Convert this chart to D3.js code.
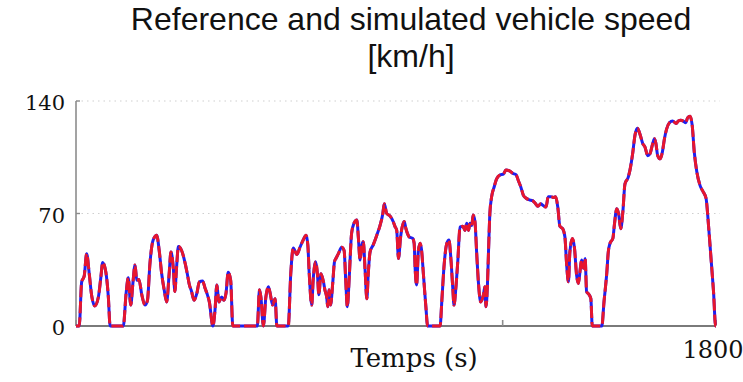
<!DOCTYPE html>
<html>
<head>
<meta charset="utf-8">
<script src="https://cdn.jsdelivr.net/npm/d3@7"></script>
<style>
  body { margin: 0; background: #fff; }
</style>
</head>
<body>
<script>

// WLTP-like cycle (time in s, speed in km/h)
const times = [0, 9, 16, 23, 30, 37, 44, 53, 63, 70, 75, 84, 91, 96, 133, 141, 147, 154, 160, 166,
  171, 177, 185, 194, 201, 208, 217, 227, 234, 241, 248, 255, 262, 267, 274, 278, 283, 288, 297, 307,
  313, 319, 325, 332, 340, 347, 356, 363, 368, 375, 385, 391, 396, 402, 410, 416, 422, 428, 435, 441,
  510, 516, 520, 527, 534, 541, 546, 553, 560, 565, 597, 604, 611, 621, 630, 639, 647, 652, 656, 663,
  667, 674, 679, 683, 689, 696, 700, 705, 708, 712, 716, 722, 727, 731, 738, 747, 754, 759, 763, 769,
  775, 782, 790, 794, 799, 804, 808, 813, 818, 822, 827, 836, 846, 855, 863, 867, 874, 883, 892, 897,
  902, 907, 913, 923, 928, 937, 947, 951, 954, 958, 963, 968, 972, 977, 984, 989, 1024, 1029, 1035, 1043,
  1049, 1054, 1060, 1063, 1069, 1074, 1080, 1088, 1094, 1099, 1104, 1108, 1113, 1117, 1122, 1127, 1132, 1138, 1146, 1150,
  1153, 1157, 1160, 1164, 1169, 1176, 1183, 1193, 1202, 1209, 1219, 1228, 1238, 1244, 1251, 1258, 1266, 1275, 1284, 1291,
  1299, 1307, 1314, 1322, 1328, 1336, 1342, 1349, 1355, 1361, 1369, 1375, 1380, 1385, 1389, 1396, 1402, 1408, 1413, 1418,
  1422, 1427, 1432, 1436, 1443, 1448, 1452, 1479, 1485, 1493, 1497, 1502, 1510, 1514, 1521, 1526, 1532, 1538, 1544, 1553,
  1558, 1566, 1572, 1579, 1586, 1594, 1600, 1608, 1614, 1622, 1627, 1631, 1636, 1643, 1649, 1655, 1661, 1669, 1678, 1688,
  1694, 1701, 1708, 1715, 1720, 1727, 1733, 1739, 1746, 1755, 1764, 1772, 1779, 1786, 1793, 1799, 1800];

const refSpeed = [0, 0, 27.5, 31, 45, 33, 19, 12.5, 18, 30.5, 39.5, 33.5, 18, 0, 0, 20.5, 30, 13, 26.5, 38,
  28.5, 29, 19.5, 13, 16, 39, 53.5, 56.5, 47, 32.5, 22.5, 15, 32.5, 46, 35, 21.5, 37, 49.5, 47, 39,
  32.5, 25.5, 21.5, 16, 20.5, 27.5, 28, 23.5, 20.5, 15, 0, 10, 25.5, 15, 18, 16, 20.5, 33.5, 28.5, 0,
  0, 22.5, 18, 0, 18, 24.5, 20.5, 13, 17, 0, 0, 32.5, 48.5, 44.5, 49, 53.5, 56.5, 50.5, 32.5, 13,
  28.5, 40, 32.5, 19.5, 32.5, 27.5, 22.5, 18, 12, 22.5, 13, 26.5, 40, 42, 45, 49, 47, 26.5, 12, 32.5,
  57.5, 64, 66, 55.5, 41, 50.5, 52.5, 35, 17, 32.5, 46, 50.5, 56.5, 62.5, 70, 76, 70, 68.5, 65, 62,
  59.5, 42, 55.5, 65, 60.5, 55.5, 54.5, 51.5, 35, 25.5, 47, 51.5, 47, 32.5, 12, 0, 0, 16, 37, 51.5,
  53.5, 43, 22.5, 13, 25.5, 41, 61.5, 62, 59.5, 64, 59.5, 64, 62.5, 69, 65, 45, 26.5, 15, 19.5, 24.5,
  12, 24.5, 45, 70, 80.5, 86.5, 91.5, 94, 94.5, 97, 96.5, 95, 94, 90.5, 86.5, 81.5, 79.5, 78.5, 78, 76.5,
  74.5, 76, 75, 74, 80.5, 80.5, 80, 80.5, 74, 62, 60.5, 55.5, 38, 27.5, 46, 54.5, 48.5, 31.5, 26.5, 35,
  41, 36, 42, 21.5, 19.5, 17, 0, 0, 15, 33.5, 46, 51.5, 54.5, 62.5, 73, 70, 60.5, 71, 88.5, 92.5,
  97, 108, 118.5, 123, 119.5, 113.5, 111.5, 106, 107, 113.5, 116.5, 113.5, 106, 104, 108, 116.5, 122.5, 126.5, 127.5, 126,
  127.5, 128, 127.5, 126.5, 129.5, 130.5, 125, 108, 96, 87.5, 83.5, 79.5, 62.5, 42, 21.5, 0, 0];

// the simulated trace lies on the reference at this scale
const simSpeed = refSpeed;

const yTicks = [0, 70, 140];
const yGridTicks = [70, 140];
const xTicks = [0, 600, 1200, 1800];
const xTickLabels = [1800];
const titleLines = ["Reference and simulated vehicle speed", "[km/h]"];
const xTitle = "Temps (s)";

/**
 * Draw the speed chart.
 * @param width the width of the svg
 * @param height the height of the svg
 */
function drawChart(width, height) {

    var svg = d3.select("body").append("svg")
        .attr("width", width)
        .attr("height", height);

    const margin = { left: 76, right: 27, top: 101, bottom: 56 };

    const x = d3.scaleLinear()
        .domain([0, 1800])
        .range([margin.left, width - margin.right]);

    const y = d3.scaleLinear()
        .domain([0, 140])
        .range([height - margin.bottom, margin.top]);

    // dotted grid
    svg.selectAll('line.grid')
        .data(yGridTicks)
        .enter().append('line')
        .attr('class', 'grid')
        .attr('x1', x(0))
        .attr('x2', x(1800) + 4)
        .attr('y1', d => y(d))
        .attr('y2', d => y(d))
        .attr('stroke', '#cfcfcf')
        .attr('stroke-width', 1.2)
        .attr('stroke-dasharray', '1.5,4')

    // axes lines
    svg.append('line')
        .attr('x1', x(0)).attr('x2', x(0))
        .attr('y1', y(0)).attr('y2', y(140))
        .attr('stroke', '#8c8c8c')
        .attr('stroke-width', 1.6)

    svg.append('line')
        .attr('x1', x(0)).attr('x2', x(1800))
        .attr('y1', y(0)).attr('y2', y(0))
        .attr('stroke', '#7a7a7a')
        .attr('stroke-width', 2)

    svg.selectAll('line.ytick')
        .data(yTicks)
        .enter().append('line')
        .attr('class', 'ytick')
        .attr('x1', x(0)).attr('x2', x(0) + 4)
        .attr('y1', d => y(d)).attr('y2', d => y(d))
        .attr('stroke', '#8c8c8c')
        .attr('stroke-width', 1.4)

    svg.selectAll('line.xtick')
        .data(xTicks)
        .enter().append('line')
        .attr('class', 'xtick')
        .attr('x1', d => x(d)).attr('x2', d => x(d))
        .attr('y1', y(0)).attr('y2', y(0) - 6)
        .attr('stroke', '#8c8c8c')
        .attr('stroke-width', 1.6)

    // tick labels
    svg.selectAll('text.ylab')
        .data(yTicks)
        .enter().append('text')
        .attr('class', 'ylab')
        .attr('x', x(0) - 11)
        .attr('y', d => y(d) + 9)
        .attr('text-anchor', 'end')
        .attr('font-family', 'DejaVu Serif, serif')
        .attr('font-size', 21)
        .attr('fill', '#111')
        .text(d => d)

    svg.selectAll('text.xlab')
        .data(xTickLabels)
        .enter().append('text')
        .attr('class', 'xlab')
        .attr('x', d => x(d) - 3)
        .attr('y', 358)
        .attr('text-anchor', 'middle')
        .attr('font-family', 'DejaVu Serif, serif')
        .attr('font-size', 24)
        .attr('fill', '#111')
        .text(d => d)

    svg.append('text')
        .attr('x', 414)
        .attr('y', 367)
        .attr('text-anchor', 'middle')
        .attr('font-family', 'DejaVu Serif, serif')
        .attr('font-size', 26)
        .attr('fill', '#111')
        .text(xTitle)

    svg.selectAll('text.title')
        .data(titleLines)
        .enter().append('text')
        .attr('class', 'title')
        .attr('x', 411)
        .attr('y', (d, i) => 30 + i * 37)
        .attr('text-anchor', 'middle')
        .attr('font-family', 'Liberation Sans, Arial, sans-serif')
        .attr('font-size', 32)
        .attr('fill', '#111')
        .text(d => d)

    // speed traces
    const line = d3.line()
        .x((d, i) => x(times[i]))
        .y(d => y(d))
        .curve(d3.curveMonotoneX)

    svg.append('path')
        .datum(simSpeed)
        .attr('d', line)
        .attr('fill', 'none')
        .attr('stroke', '#1f1fef')
        .attr('stroke-width', 3)
        .attr('stroke-linejoin', 'round')

    svg.append('path')
        .datum(refSpeed)
        .attr('d', line)
        .attr('fill', 'none')
        .attr('stroke', '#e6162e')
        .attr('stroke-width', 3)
        .attr('stroke-linejoin', 'round')
        .attr('stroke-dasharray', '12,4')
}

drawChart(743, 382);

</script>
</body>
</html>
